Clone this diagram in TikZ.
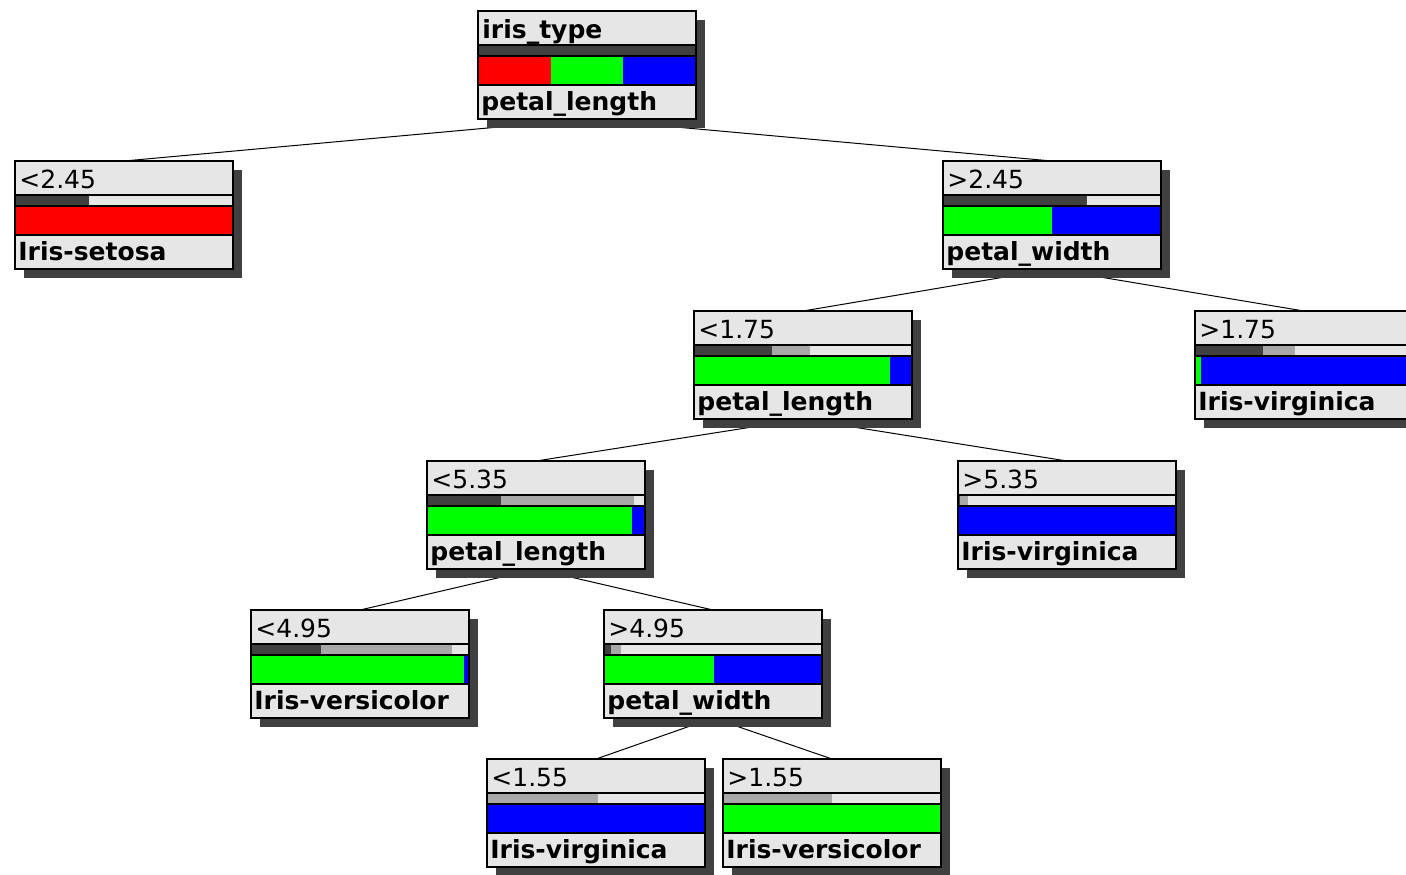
\documentclass[tikz,border=0pt]{standalone}
\usepackage{fontspec}
\setmainfont{DejaVu Sans}
\usetikzlibrary{backgrounds}
\definecolor{rowgrey}{HTML}{E6E6E6}
\definecolor{shadegrey}{HTML}{404040}
\definecolor{midgrey}{HTML}{A8A8A8}
\definecolor{irisred}{HTML}{FF0000}
\definecolor{irisgreen}{HTML}{00FF00}
\definecolor{irisblue}{HTML}{0000FF}

% name, centre, top text, bottom text, dark, mid, red, green
\newcommand{\splitnode}[8]{%
  \node[splitbox] (#1) at (#2) {};
  \fill[shadegrey] ([xshift=4.5pt,yshift=-4.5pt]#1.north west) rectangle ([xshift=4.5pt,yshift=-4.5pt]#1.south east);
  \begin{scope}[shift={(#1.north west)}]
    \fill[rowgrey] (0,0) rectangle (218,108);
    \fill[shadegrey] (0,34) rectangle ({218*#5},45);
    \fill[midgrey] ({218*#5},34) rectangle ({218*#6},45);
    \fill[irisblue] (0,45) rectangle (218,74);
    \fill[irisred] (0,45) rectangle ({218*#7},74);
    \fill[irisgreen] ({218*#7},45) rectangle ({218*(#7+#8)},74);
    \draw[boxline] (0,0) rectangle (218,108) (0,34) -- (218,34) (0,45) -- (218,45) (0,74) -- (218,74);
    \node[toplabel] (#1-top) at (4,27) {#3};
    \node[botlabel] (#1-bot) at (3,99) {#4};
  \end{scope}}

\begin{document}
\begin{tikzpicture}[x=0.5pt,y=-0.5pt]
\tikzset{
    splitbox/.style={
           rectangle,
           minimum width=109pt,
           minimum height=54pt,
           inner sep=0pt,
           outer sep=0pt},
    boxline/.style={
           draw=black,
           line width=0.6pt},
    toplabel/.style={
           anchor=base west,
           inner sep=0pt,
           font=\fontsize{12.5}{14}\selectfont},
    botlabel/.style={
           anchor=base west,
           inner sep=0pt,
           font=\fontsize{12.5}{14}\selectfont\bfseries},
    link/.style={
           draw=black,
           line width=0.5pt}
}
\useasboundingbox (0,0) rectangle (1406,874);
\clip (0,0) rectangle (1406,874);
\splitnode{root}{587,65}{\textbf{iris\_type}}{petal\_length}{1}{1}{0.333}{0.333}
\splitnode{lt245}{124,215}{<2.45}{Iris-setosa}{0.34}{0.34}{1}{0}
\splitnode{gt245}{1052,215}{>2.45}{petal\_width}{0.66}{0.66}{0}{0.5}
\splitnode{lt175}{803,365}{<1.75}{petal\_length}{0.36}{0.53}{0}{0.9}
\splitnode{gt175}{1304,365}{>1.75}{Iris-virginica}{0.31}{0.46}{0}{0.026}
\splitnode{lt535}{536,515}{<5.35}{petal\_length}{0.34}{0.95}{0}{0.94}
\splitnode{gt535}{1067,515}{>5.35}{Iris-virginica}{0.01}{0.046}{0}{0}
\splitnode{lt495}{360,664}{<4.95}{Iris-versicolor}{0.32}{0.92}{0}{0.975}
\splitnode{gt495}{713,664}{>4.95}{petal\_width}{0.034}{0.08}{0}{0.506}
\splitnode{lt155}{596,813}{<1.55}{Iris-virginica}{0}{0.51}{0}{0}
\splitnode{gt155}{832,813}{>1.55}{Iris-versicolor}{0}{0.5}{0}{1}
\begin{pgfonlayer}{background}
\fill[white] (0,0) rectangle (1406,874);
\foreach \from/\to in {root/lt245,root/gt245,gt245/lt175,gt245/gt175,lt175/lt535,lt175/gt535,lt535/lt495,lt535/gt495,gt495/lt155,gt495/gt155}
    \draw[link] (\from.south) -- (\to.north);
\end{pgfonlayer}
\end{tikzpicture}
\end{document}
